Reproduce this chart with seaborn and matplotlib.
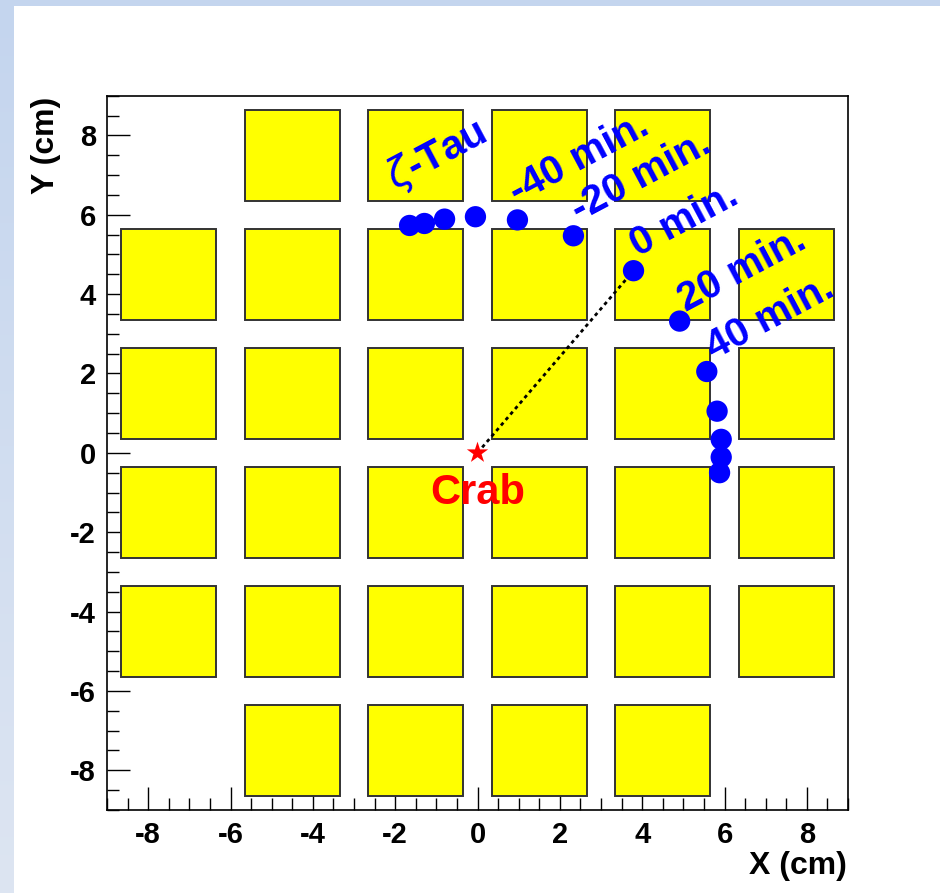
import numpy as np
import matplotlib
matplotlib.use("Agg")
import matplotlib.pyplot as plt
from matplotlib.patches import Rectangle
from matplotlib.ticker import MultipleLocator
import pandas as pd
import seaborn as sns

# star track positions (cm), zeta-Tau drifting across the camera
track_x = [-1.65, -1.29, -0.80, -0.05, 0.97, 2.33, 3.79, 4.91, 5.57, 5.82, 5.92, 5.92, 5.88]
track_y = [5.73, 5.78, 5.89, 5.95, 5.87, 5.47, 4.59, 3.32, 2.05, 1.05, 0.34, -0.11, -0.50]

# Crab position and the point the dotted line goes to
crab_xy = (0.0, 0.0)
line_end = (3.79, 4.59)

# pixel module centres (cm); top and bottom rows only have the middle four
col_centres = [-7.5, -4.5, -1.5, 1.5, 4.5, 7.5]
row_centres = [7.5, 4.5, 1.5, -1.5, -4.5, -7.5]
row_cols = {7.5: [-4.5, -1.5, 1.5, 4.5],
            -7.5: [-4.5, -1.5, 1.5, 4.5]}

# time labels along the track
label_text = ["$\\zeta$-Tau", "-40 min.", "-20 min.", "0 min.", "20 min.", "40 min."]
label_x = [-2.02, 0.97, 2.46, 3.89, 5.06, 5.74]
label_y = [6.62, 6.27, 5.82, 4.94, 3.56, 2.35]

x_ticks = [-8, -6, -4, -2, 0, 2, 4, 6, 8]
y_ticks = [-8, -6, -4, -2, 0, 2, 4, 6, 8]

sns.set_style("ticks")
plt.rcParams["font.family"] = ["Liberation Sans", "DejaVu Sans"]
plt.rcParams["mathtext.fontset"] = "dejavusans"
plt.rcParams["text.color"] = "black"
plt.rcParams["xtick.color"] = "black"
plt.rcParams["ytick.color"] = "black"
plt.rcParams["xtick.labelcolor"] = "black"
plt.rcParams["ytick.labelcolor"] = "black"

fig = plt.figure(figsize=(9.4, 8.93), dpi=100)
fig.patch.set_facecolor("white")

# slide border: gradient strip on the left, flat strip on top
W, H = 940, 893
ax_left = fig.add_axes([0, 0, 14 / W, 1])
grad = np.linspace(0, 1, 256).reshape(-1, 1)
c_top = np.array([0xC4, 0xD5, 0xEE]) / 255
c_bot = np.array([0xDD, 0xE5, 0xF2]) / 255
img = c_top[None, None, :] * (1 - grad[:, :, None]) + c_bot[None, None, :] * grad[:, :, None]
ax_left.imshow(img, aspect="auto")
ax_left.axis("off")
ax_top = fig.add_axes([0, 1 - 6 / H, 1, 6 / H])
ax_top.set_facecolor("#C4D5EE")
ax_top.set_xticks([])
ax_top.set_yticks([])
for s in ax_top.spines.values():
    s.set_visible(False)

ax = fig.add_axes([107 / W, 1 - 810 / H, 741 / W, 714.3 / H])
ax.set_facecolor("white")

box = 2.3
for yc in row_centres:
    for xc in row_cols.get(yc, col_centres):
        ax.add_patch(Rectangle((xc - box / 2, yc - box / 2), box, box,
                               facecolor="#FFFF00", edgecolor="#333333",
                               linewidth=1.4, zorder=1))

ax.plot([crab_xy[0], line_end[0]], [crab_xy[1], line_end[1]], color="black",
        linestyle=(0, (1.3, 1.3)), linewidth=2, zorder=2)

df = pd.DataFrame({"x": track_x, "y": track_y})
sns.scatterplot(data=df, x="x", y="y", ax=ax, color="#0000FF", s=235,
                edgecolor="none", zorder=3, legend=False)
ax.scatter([crab_xy[0]], [crab_xy[1]], marker="*", s=260, color="#FF0000",
           edgecolor="none", zorder=4)

ax.text(0.0, -1.3, "Crab", color="#FF0000", fontsize=30, fontweight="bold",
        ha="center", va="baseline", zorder=5)
for t, lx, ly in zip(label_text, label_x, label_y):
    ax.text(lx, ly, t, color="#0000FF", fontsize=29, fontweight="bold",
            rotation=28, rotation_mode="anchor", ha="left", va="baseline",
            zorder=5)

ax.set_xlim(-9, 9)
ax.set_ylim(-9, 9)
ax.set_xticks(x_ticks)
ax.set_yticks(y_ticks)
ax.set_xticklabels([str(v) for v in x_ticks])
ax.set_yticklabels([str(v) for v in y_ticks])
ax.xaxis.set_minor_locator(MultipleLocator(0.5))
ax.yaxis.set_minor_locator(MultipleLocator(0.5))
ax.tick_params(which="major", direction="in", length=16.5, width=1,
               labelsize=21, pad=8, top=False, right=False, color="black",
               labelcolor="black")
ax.tick_params(which="minor", direction="in", length=8.5, width=1,
               top=False, right=False, color="black")
for lab in ax.get_xticklabels() + ax.get_yticklabels():
    lab.set_fontweight("bold")
ax.set_xlabel("")
ax.set_ylabel("")
for s in ax.spines.values():
    s.set_color("black")
    s.set_linewidth(1.2)

fig.text(847 / W, 1 - 866 / H, "X (cm)", fontsize=23, fontweight="bold",
         color="black", ha="right", va="center")
fig.text(46 / W, 1 - 97 / H, "Y (cm)", fontsize=23, fontweight="bold",
         color="black", rotation=90, ha="center", va="top")

fig.savefig("out.png", dpi=100, facecolor=fig.get_facecolor())
